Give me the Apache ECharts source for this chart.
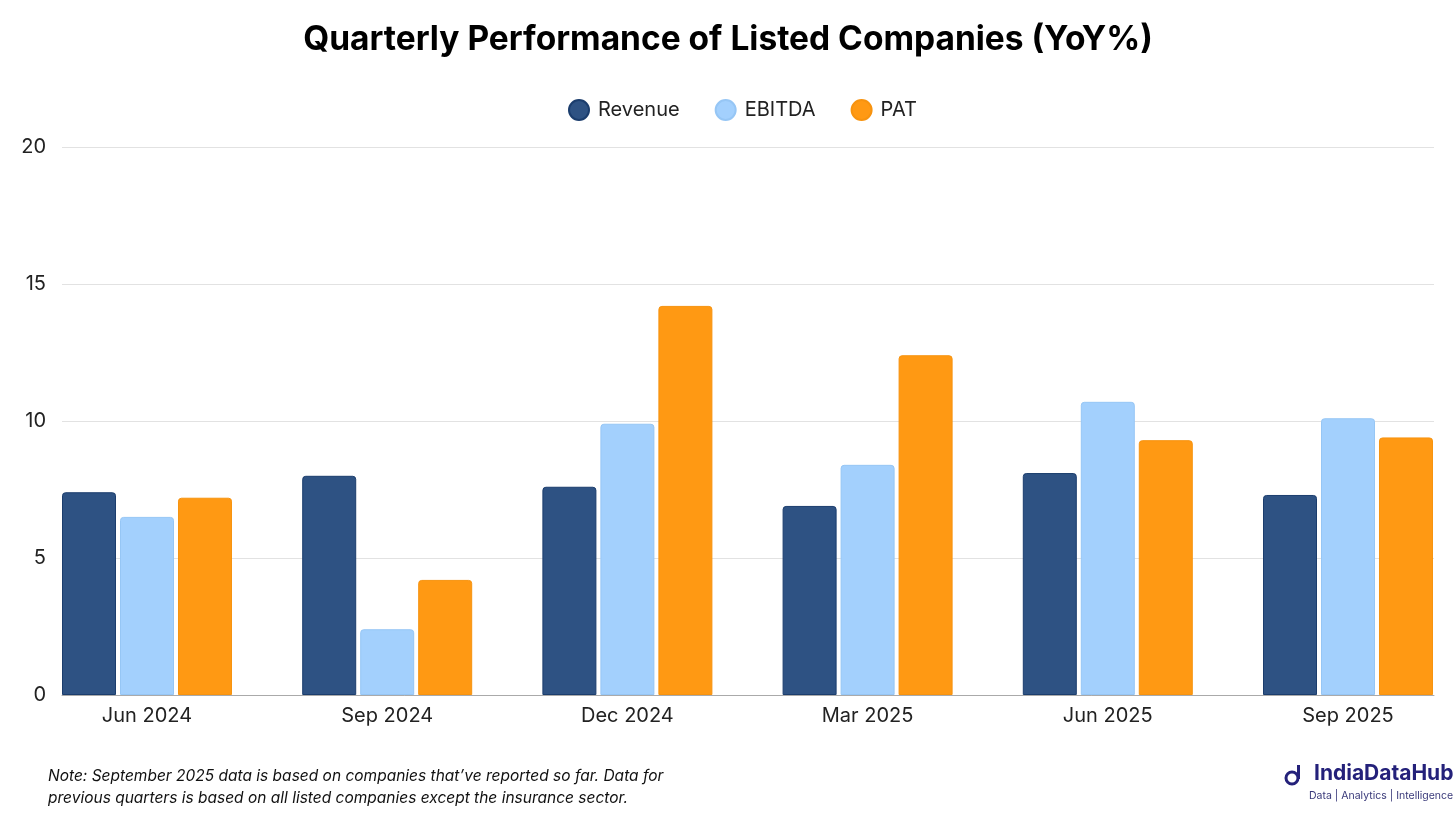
<!DOCTYPE html>
<html><head><meta charset="utf-8">
<script src="https://cdn.jsdelivr.net/npm/echarts@6/dist/echarts.min.js"></script>
<style>html,body{margin:0;padding:0;background:#fff}#c{width:1456px;height:819px}</style>
</head><body><div id="c"></div>
<script>
const categories = ['Jun 2024','Sep 2024','Dec 2024','Mar 2025','Jun 2025','Sep 2025'];
const revenue = [7.4, 8.0, 7.6, 6.9, 8.1, 7.3];
const ebitda  = [6.5, 2.4, 9.9, 8.4, 10.7, 10.1];
const pat     = [7.2, 4.2, 14.2, 12.4, 9.3, 9.4];
const yTicks = [0, 5, 10, 15, 20];

const FONT = 'Inter';
const chart = echarts.init(document.getElementById('c'));
const barStyle = (c, b) => ({color: c, borderColor: b, borderWidth: 1, borderRadius: [3,3,0,0]});
chart.setOption({
  backgroundColor: '#fff',
  animation: false,
  textStyle: {fontFamily: FONT},
  title: {text: 'Quarterly Performance of Listed Companies (YoY%)', left: 'center', top: 18,
    textStyle: {fontFamily: FONT, fontSize: 33.5, fontWeight: 'bold', color: '#000'}},
  legend: {top: 94, left: 563, itemWidth: 20, itemHeight: 20, itemGap: 35, icon: 'circle',
    textStyle: {fontFamily: FONT, fontSize: 20, color: '#222', padding: [0,0,0,4]},
    data: ['Revenue','EBITDA','PAT']},
  grid: [
    {left: 62, width: 1372, top: 147, bottom: 124},
    {left: 147, width: 1201, top: 147, bottom: 124}
  ],
  xAxis: [
    {type: 'category', gridIndex: 0, data: categories, axisLine: {lineStyle: {color: '#aaa'}},
      axisTick: {show: false}, axisLabel: {show: false}},
    {type: 'category', gridIndex: 1, data: categories, boundaryGap: false, axisLine: {show: false}, axisTick: {show: false},
      axisLabel: {fontFamily: FONT, fontSize: 20, color: '#222', margin: 11}}
  ],
  yAxis: [
    {type: 'value', gridIndex: 0, min: yTicks[0], max: yTicks[yTicks.length-1], interval: 5,
      axisLine: {show: false}, axisTick: {show: false},
      axisLabel: {fontFamily: FONT, fontSize: 20, color: '#222', margin: 16},
      splitLine: {lineStyle: {color: '#e2e2e2'}}},
    {type: 'value', gridIndex: 1, min: yTicks[0], max: yTicks[yTicks.length-1], interval: 5,
      show: false, splitLine: {show: false}}
  ],
  series: [
    {name: 'Revenue', type: 'bar', xAxisIndex: 1, yAxisIndex: 1, data: revenue, barWidth: 54, barGap: '7.4%',
      itemStyle: barStyle('#2E5283', '#1B3D6D')},
    {name: 'EBITDA', type: 'bar', xAxisIndex: 1, yAxisIndex: 1, data: ebitda, barWidth: 54, barGap: '7.4%',
      itemStyle: barStyle('#A3D0FD', '#96C6F5')},
    {name: 'PAT', type: 'bar', xAxisIndex: 1, yAxisIndex: 1, data: pat, barWidth: 54, barGap: '7.4%',
      itemStyle: barStyle('#FF9913', '#F7930F')}
  ],
  graphic: [
    {type: 'text', left: 48, top: 765, style: {text: 'Note: September 2025 data is based on companies that\u2019ve reported so far. Data for\nprevious quarters is based on all listed companies except the insurance sector.',
      font: 'italic 15.5px ' + FONT, fill: '#111', lineHeight: 22}},
    {type: 'text', left: 1314, top: 763, style: {text: 'IndiaDataHub', font: 'bold 21px ' + FONT, fill: '#24217A'}},
    {type: 'text', left: 1309, top: 790, style: {text: 'Data | Analytics | Intelligence', font: '10.5px ' + FONT, fill: '#3A3A7A'}},
    {type: 'circle', shape: {cx: 1292, cy: 778, r: 6}, style: {fill: 'none', stroke: '#24217A', lineWidth: 3}},
    {type: 'rect', shape: {x: 1297, y: 765, width: 3, height: 14}, style: {fill: '#24217A'}}
  ]
});
</script></body></html>
